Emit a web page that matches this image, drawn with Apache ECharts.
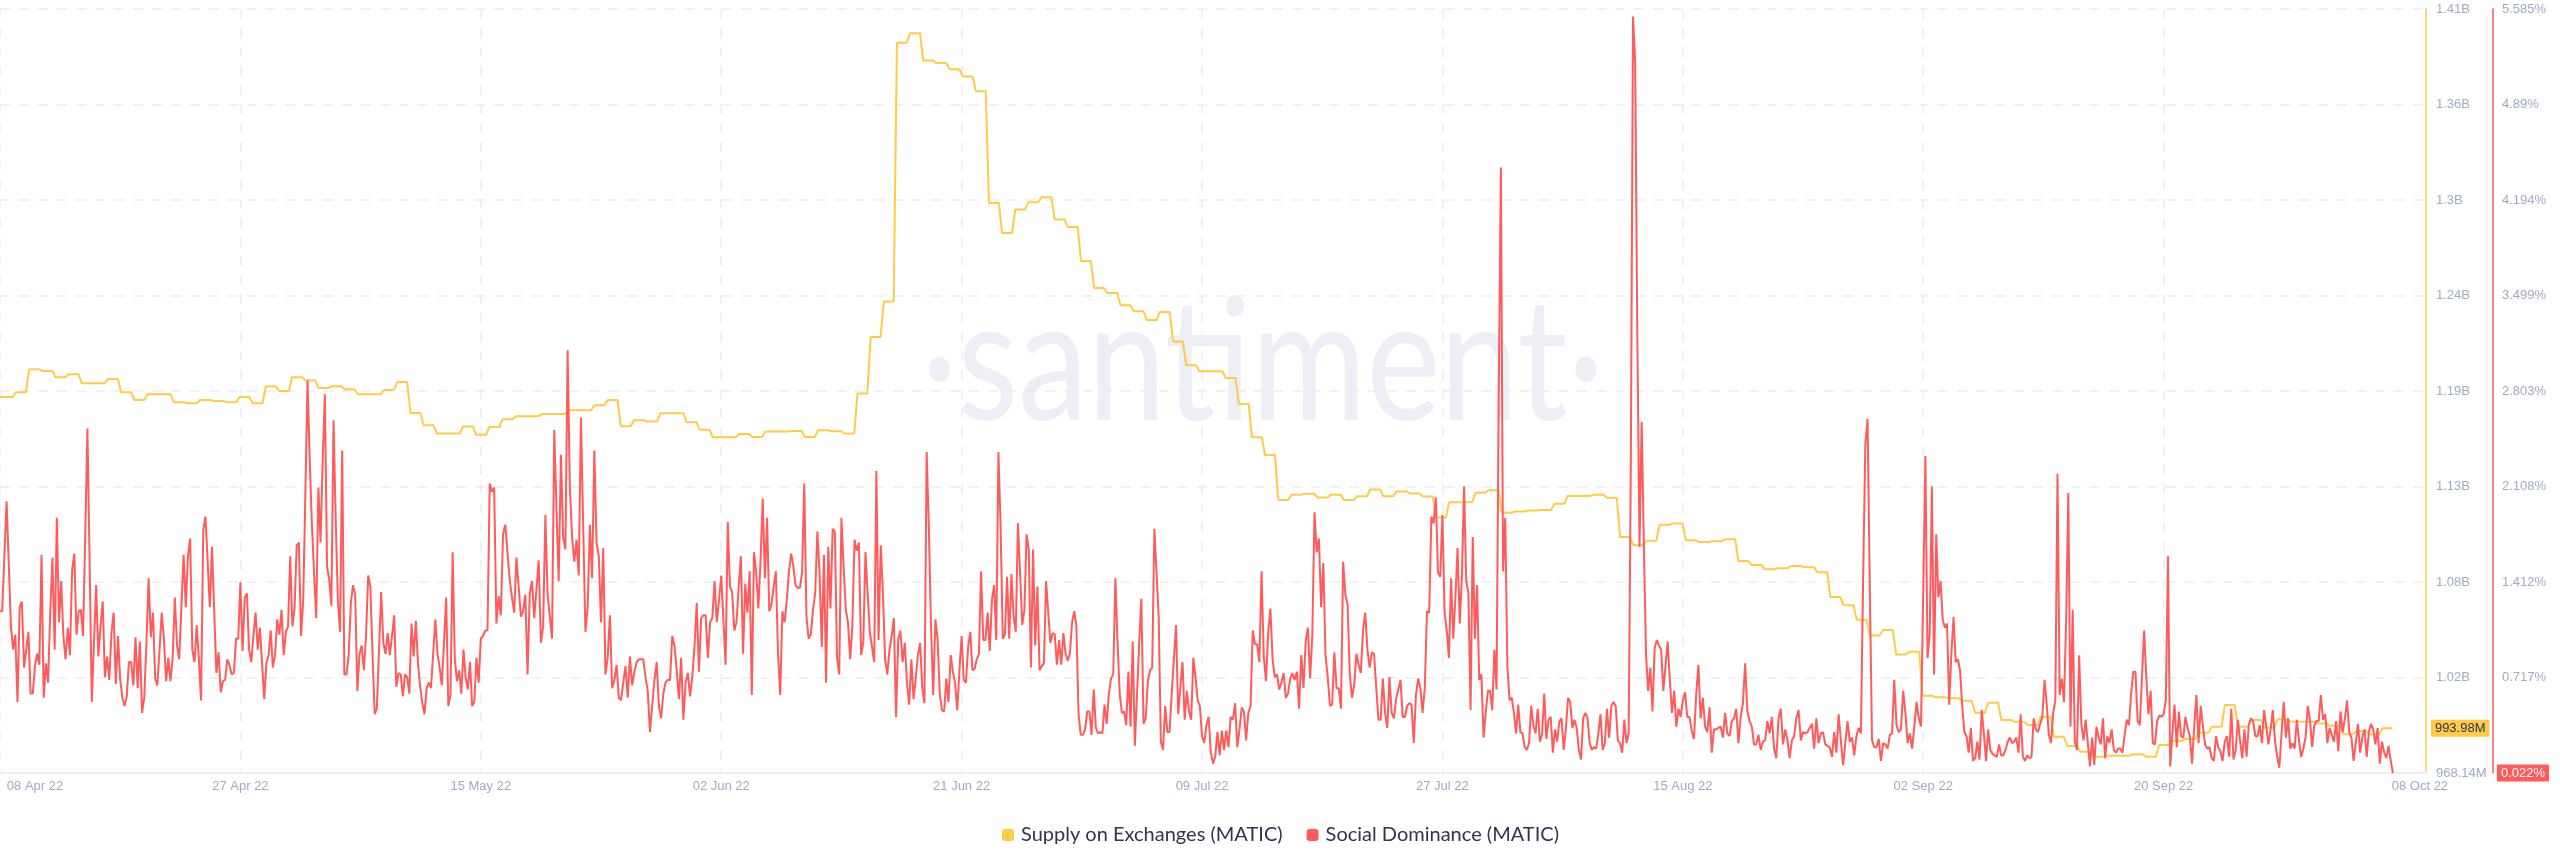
<!DOCTYPE html>
<html>
<head>
<meta charset="utf-8">
<title>MATIC supply and social dominance</title>
<script src="https://cdn.jsdelivr.net/npm/echarts@6/dist/echarts.min.js"></script>
<style>
  html, body { margin: 0; padding: 0; background: #fff; }
  #chart { width: 2560px; height: 867px; }
</style>
</head>
<body>
<div id="chart"></div>
<script>
// x axis runs in days since 08 Apr 22
const tickDays = [0, 18.38, 36.76, 55.14, 73.52, 91.9, 110.28, 128.66, 147.04, 165.42];
const tickLabels = ['08 Apr 22', '27 Apr 22', '15 May 22', '02 Jun 22', '21 Jun 22', '09 Jul 22', '27 Jul 22', '15 Aug 22', '02 Sep 22', '20 Sep 22'];
const lastDay = 182.95;
const lastDayLabel = '08 Oct 22';

const supplyTicks = [968.14, 1023.37, 1078.6, 1133.84, 1189.07, 1244.3, 1299.53, 1354.77, 1410];
const supplyTickLabels = ['968.14M', '1.02B', '1.08B', '1.13B', '1.19B', '1.24B', '1.3B', '1.36B', '1.41B'];
const dominanceTicks = [0.717, 1.412, 2.108, 2.803, 3.499, 4.194, 4.89, 5.585];
const dominanceTickLabels = ['0.717%', '1.412%', '2.108%', '2.803%', '3.499%', '4.194%', '4.89%', '5.585%'];

// Supply on Exchanges, millions, one value a day
const supplyDaily = [
  1185.6, 1188.4, 1201.6, 1200.7, 1197.0, 1198.8, 1193.6, 1193.6, 1196.0, 1188.4,
  1183.9, 1187.2, 1187.2, 1182.6, 1182.0, 1183.9, 1183.3, 1182.6, 1185.6, 1182.0,
  1191.8, 1189.1, 1197.0, 1195.3, 1190.8, 1191.8, 1190.1, 1187.2, 1187.2, 1189.7,
  1194.3, 1176.4, 1169.3, 1164.5, 1164.5, 1168.5, 1163.7, 1168.3, 1172.7, 1174.5,
  1174.5, 1175.8, 1175.8, 1178.0, 1178.0, 1180.8, 1183.9, 1168.7, 1172.2, 1171.4,
  1176.2, 1176.2, 1171.0, 1166.6, 1162.3, 1162.3, 1164.2, 1162.5, 1165.6, 1165.6,
  1166.0, 1162.5, 1166.4, 1165.8, 1164.5, 1187.6, 1220.3, 1240.9, 1390.5, 1396.0,
  1380.2, 1378.7, 1375.2, 1371.0, 1362.5, 1297.8, 1280.4, 1294.1, 1298.3, 1301.1,
  1288.2, 1283.9, 1264.2, 1248.6, 1245.8, 1238.6, 1235.2, 1230.1, 1234.8, 1217.7,
  1204.0, 1200.5, 1200.5, 1196.6, 1181.6, 1162.3, 1152.0, 1126.0, 1129.0, 1129.6,
  1127.5, 1129.0, 1126.0, 1128.2, 1132.1, 1128.2, 1131.0, 1129.8, 1128.1, 1115.9,
  1124.8, 1124.8, 1130.2, 1131.7, 1118.6, 1119.4, 1120.0, 1120.2, 1123.8, 1128.4,
  1128.4, 1129.0, 1127.3, 1104.7, 1099.9, 1102.4, 1111.7, 1112.5, 1102.8, 1101.7,
  1102.2, 1103.4, 1090.7, 1088.5, 1086.0, 1086.6, 1087.8, 1087.2, 1084.3, 1070.0,
  1065.2, 1056.7, 1047.7, 1050.8, 1036.7, 1038.2, 1012.8, 1011.9, 1011.3, 1009.9,
  1003.0, 1008.8, 998.8, 997.8, 995.9, 1000.7, 989.1, 983.7, 980.5, 977.6,
  978.1, 978.1, 979.0, 977.6, 984.3, 986.8, 987.8, 991.4, 994.9, 1007.4,
  994.9, 998.8, 994.3, 999.2, 997.8, 997.8, 996.8, 995.5, 990.6, 992.5,
  990.6, 993.98
];

// Social Dominance, percent, one list per tick interval
const dominanceApr = [
  1.20, 1.20, 1.60, 2.00, 1.55, 1.09, 0.92, 1.03, 0.54, 1.23, 1.27, 0.79, 0.92, 1.05, 0.60, 0.60, 0.80, 0.89, 0.81, 1.61,
  0.57, 0.82, 0.68, 1.20, 1.59, 0.92, 1.88, 1.12, 1.42, 1.02, 0.85, 1.08, 0.88, 1.50, 1.62, 1.03, 1.20, 1.21, 1.02, 1.75,
  2.53, 1.57, 0.54, 0.97, 1.39, 0.87, 1.09, 1.27, 0.72, 0.87, 0.70, 1.04, 1.19, 0.67, 1.02, 0.70, 0.57, 0.51, 0.58, 0.83,
  0.83, 0.66, 1.01, 0.64, 0.98, 0.46, 0.57, 0.97, 1.44, 1.01, 1.19, 0.71, 0.66, 0.92, 1.19, 1.00, 0.69, 0.86, 0.69, 0.86,
  1.30, 0.95, 0.85, 1.23, 1.61, 1.23, 1.60, 1.73, 0.92, 0.83, 1.10, 0.85, 0.55, 1.79, 1.89, 1.57, 1.23, 1.67, 1.21, 0.75,
  0.90, 0.61, 0.69, 0.70, 0.85, 0.81, 0.74, 0.75, 1.00, 1.00
];
const dominanceMay1 = [
  1.41, 0.91, 1.30, 1.33, 0.92, 0.83, 1.02, 1.19, 0.92, 1.08, 0.82, 0.56, 0.82, 0.88, 1.06, 0.79, 0.88, 1.14, 1.03, 1.21,
  0.88, 1.05, 1.09, 1.60, 1.09, 1.22, 1.68, 1.70, 1.02, 1.28, 2.06, 2.88, 2.30, 1.84, 1.48, 1.15, 2.10, 1.70, 2.30, 2.78,
  1.53, 1.43, 1.24, 2.59, 1.87, 1.28, 1.05, 2.37, 0.74, 0.74, 0.88, 1.26, 1.39, 1.32, 0.62, 0.89, 0.95, 0.77, 1.02, 1.46,
  1.38, 0.89, 0.45, 0.49, 0.92, 1.34, 0.97, 0.89, 1.04, 0.88, 1.02, 1.17, 0.65, 0.75, 0.74, 0.58, 0.74, 0.72, 0.60, 1.11,
  0.87, 1.13, 0.82, 0.65, 0.53, 0.45, 0.64, 0.68, 0.64, 0.89, 1.14, 0.89, 0.79, 0.66, 0.97, 1.30, 0.51, 0.59, 1.63, 0.85,
  0.69, 0.77, 0.60, 0.92, 0.72, 0.63, 0.83, 0.51, 0.54, 0.86, 0.68
];
const dominanceMay2 = [
  1.00, 1.02, 1.06, 1.06, 2.13, 2.07, 2.10, 1.11, 1.31, 1.17, 1.76, 1.83, 1.62, 1.43, 1.30, 1.19, 1.59, 1.38, 1.16, 1.20,
  1.32, 0.74, 1.33, 1.42, 1.15, 1.36, 1.57, 0.97, 1.09, 1.90, 1.32, 1.16, 1.00, 2.52, 1.94, 1.42, 2.34, 1.74, 1.65, 3.10,
  2.11, 1.74, 1.56, 1.72, 1.46, 2.61, 1.82, 1.05, 1.23, 1.83, 1.44, 2.37, 1.70, 1.60, 1.12, 1.66, 0.74, 0.86, 1.17, 0.64,
  0.70, 0.81, 0.57, 0.55, 0.68, 0.80, 0.57, 0.87, 0.66, 0.76, 0.83, 0.85, 0.85, 0.85, 0.72, 0.62, 0.32, 0.51, 0.70, 0.83,
  0.51, 0.42, 0.60, 0.68, 0.70, 0.70, 1.02, 0.95, 0.77, 0.56, 0.86, 0.41, 0.68, 0.75, 0.58, 0.72, 0.94, 1.26, 0.76, 1.15,
  1.17, 1.17, 0.86, 1.12, 1.15, 1.42, 1.12, 1.28
];
const dominanceJun1 = [
  1.46, 1.14, 0.81, 1.85, 1.38, 1.34, 1.06, 1.12, 1.38, 1.60, 0.89, 1.40, 1.19, 1.49, 0.59, 1.63, 1.48, 1.22, 1.57, 2.02,
  1.44, 1.88, 1.20, 1.25, 1.38, 1.49, 0.89, 0.59, 1.20, 1.12, 1.28, 1.49, 1.62, 1.53, 1.39, 1.37, 1.37, 1.48, 2.13, 1.16,
  1.00, 1.03, 1.21, 1.33, 1.78, 1.48, 0.94, 1.61, 0.68, 1.67, 1.22, 1.80, 1.78, 0.86, 0.74, 1.88, 1.53, 1.21, 1.12, 0.85,
  1.09, 1.72, 1.64, 1.70, 0.88, 0.97, 1.63, 1.33, 1.05, 0.94, 0.83, 2.22, 0.99, 1.68, 1.33, 0.85, 0.74, 0.92, 1.02, 1.15,
  0.43, 1.00, 1.06, 0.83, 0.97, 0.68, 0.52, 0.85, 0.56, 0.71, 0.88, 0.97, 0.64, 0.53, 2.36, 1.82, 1.09, 0.59, 1.14, 1.00,
  0.60, 0.48, 0.47, 0.71, 0.54, 0.88, 0.76, 0.68, 0.48, 0.77
];
const dominanceJun2 = [
  1.02, 0.70, 0.68, 0.94, 1.05, 0.77, 0.78, 0.85, 0.89, 1.49, 0.99, 0.99, 1.19, 0.91, 1.28, 1.39, 0.99, 2.36, 1.82, 1.00,
  1.03, 1.45, 1.00, 1.47, 1.16, 1.05, 1.84, 1.48, 1.10, 1.21, 1.76, 1.65, 0.79, 1.65, 0.95, 1.38, 0.77, 0.80, 0.82, 1.42,
  1.19, 0.97, 1.04, 1.03, 0.81, 0.99, 0.81, 1.04, 0.89, 0.84, 0.89, 1.12, 1.20, 1.09, 0.45, 0.30, 0.30, 0.34, 0.47, 0.47,
  0.30, 0.63, 0.35, 0.31, 0.32, 0.31, 0.52, 0.38, 0.60, 0.71, 0.74, 1.44, 0.97, 0.60, 0.46, 0.47, 0.37, 0.76, 0.36, 0.98,
  0.22, 0.60, 0.97, 1.29, 0.38, 0.42, 0.69, 0.77, 0.79, 1.80, 1.48, 1.16, 0.25, 0.19, 0.51, 0.32, 0.32, 0.60, 0.85, 1.10,
  0.45, 0.65, 0.83, 0.41, 0.62, 0.47, 0.41, 0.86, 0.72, 0.55, 0.51
];
const dominanceJul1 = [
  0.29, 0.24, 0.37, 0.43, 0.17, 0.09, 0.14, 0.32, 0.15, 0.33, 0.19, 0.33, 0.21, 0.43, 0.41, 0.53, 0.21, 0.34, 0.50, 0.47,
  0.26, 0.46, 0.51, 1.06, 0.96, 0.96, 0.83, 1.49, 0.87, 0.69, 1.04, 1.22, 0.85, 0.72, 0.74, 0.63, 0.68, 0.75, 0.57, 0.60,
  0.71, 0.75, 0.70, 0.76, 0.49, 0.88, 0.64, 0.98, 1.08, 0.71, 1.02, 1.92, 1.63, 1.73, 1.23, 1.55, 0.88, 0.72, 0.51, 0.52,
  0.90, 0.64, 0.64, 0.49, 1.56, 1.32, 1.25, 0.74, 0.57, 0.66, 0.89, 0.81, 0.75, 1.06, 1.19, 0.92, 0.79, 0.90, 0.89, 0.64,
  0.41, 0.41, 0.71, 0.46, 0.35, 0.72, 0.46, 0.42, 0.56, 0.63, 0.70, 0.43, 0.43, 0.51, 0.53, 0.52, 0.24, 0.59, 0.71, 0.64,
  0.46, 0.64, 1.20, 1.19, 1.89, 1.84, 2.03, 1.48, 1.45
];
const dominanceJul2 = [
  1.90, 1.19, 1.06, 0.86, 1.44, 1.00, 1.30, 1.66, 1.11, 1.45, 2.11, 1.42, 1.33, 0.48, 1.74, 1.00, 1.39, 0.70, 0.74, 0.28,
  0.46, 0.62, 0.62, 0.48, 0.92, 0.63, 2.80, 4.43, 1.49, 1.88, 0.80, 0.55, 0.57, 0.46, 0.31, 0.52, 0.32, 0.31, 0.21, 0.19,
  0.24, 0.51, 0.37, 0.31, 0.49, 0.25, 0.30, 0.60, 0.27, 0.41, 0.43, 0.17, 0.34, 0.25, 0.40, 0.42, 0.19, 0.34, 0.57, 0.54,
  0.35, 0.41, 0.35, 0.19, 0.12, 0.42, 0.46, 0.42, 0.24, 0.19, 0.21, 0.20, 0.31, 0.45, 0.19, 0.24, 0.49, 0.28, 0.51, 0.54,
  0.51, 0.26, 0.24, 0.17, 0.41, 0.24, 0.31, 2.30, 5.53, 5.20, 3.20, 1.67, 2.58, 1.70, 0.89, 0.62, 0.79, 0.47, 0.93, 0.99,
  0.95, 0.92, 0.62, 0.80, 0.98, 0.70, 0.46, 0.62, 0.36, 0.49, 0.43
];
const dominanceAug = [
  0.55, 0.61, 0.43, 0.43, 0.33, 0.27, 0.59, 0.81, 0.42, 0.57, 0.36, 0.32, 0.50, 0.17, 0.34, 0.34, 0.35, 0.36, 0.28, 0.46,
  0.31, 0.29, 0.40, 0.42, 0.49, 0.24, 0.43, 0.53, 0.82, 0.47, 0.40, 0.36, 0.23, 0.23, 0.30, 0.19, 0.25, 0.26, 0.40, 0.31,
  0.43, 0.20, 0.13, 0.42, 0.49, 0.23, 0.34, 0.26, 0.13, 0.26, 0.29, 0.42, 0.48, 0.26, 0.32, 0.31, 0.32, 0.35, 0.38, 0.20,
  0.42, 0.24, 0.31, 0.32, 0.23, 0.22, 0.21, 0.14, 0.32, 0.17, 0.45, 0.26, 0.08, 0.24, 0.40, 0.25, 0.28, 0.15, 0.29, 0.35,
  0.31, 1.43, 2.42, 2.60, 1.38, 0.26, 0.21, 0.21, 0.27, 0.11, 0.24, 0.23, 0.20, 0.30, 0.31, 0.70, 0.37, 0.32, 0.34, 0.62,
  0.46, 0.24, 0.31, 0.20, 0.36, 0.54, 0.42, 0.36
];
const dominanceSep1 = [
  1.33, 2.33, 0.86, 1.04, 2.11, 0.74, 1.76, 1.30, 1.42, 1.14, 1.08, 1.11, 0.52, 0.89, 1.16, 0.83, 0.85, 0.77, 0.51, 0.32,
  0.29, 0.17, 0.35, 0.11, 0.13, 0.25, 0.12, 0.48, 0.31, 0.11, 0.34, 0.19, 0.16, 0.15, 0.14, 0.23, 0.15, 0.15, 0.19, 0.25,
  0.28, 0.24, 0.25, 0.28, 0.17, 0.45, 0.14, 0.11, 0.15, 0.13, 0.14, 0.42, 0.34, 0.32, 0.38, 0.43, 0.70, 0.53, 0.30, 0.24,
  0.46, 0.55, 2.20, 0.59, 0.71, 0.54, 1.14, 2.06, 0.36, 1.21, 0.25, 0.19, 0.88, 0.38, 0.26, 0.41, 0.24, 0.07, 0.28, 0.08,
  0.36, 0.28, 0.23, 0.42, 0.13, 0.29, 0.24, 0.34, 0.19, 0.17, 0.20, 0.20, 0.17, 0.30, 0.41, 0.37, 0.60, 0.76, 0.76, 0.40,
  0.37, 0.72, 1.06, 0.72, 0.45, 0.62, 0.24, 0.23, 0.40, 0.44, 0.43
];
const dominanceSep2 = [
  0.45, 0.55, 1.60, 0.07, 0.31, 0.52, 0.21, 0.47, 0.29, 0.28, 0.43, 0.35, 0.29, 0.09, 0.36, 0.59, 0.24, 0.51, 0.36, 0.23,
  0.20, 0.21, 0.13, 0.11, 0.29, 0.21, 0.18, 0.11, 0.25, 0.29, 0.14, 0.49, 0.12, 0.19, 0.41, 0.26, 0.13, 0.34, 0.14, 0.37,
  0.42, 0.40, 0.29, 0.29, 0.37, 0.24, 0.48, 0.36, 0.23, 0.34, 0.48, 0.26, 0.14, 0.06, 0.31, 0.54, 0.28, 0.42, 0.20, 0.24,
  0.20, 0.41, 0.26, 0.14, 0.20, 0.28, 0.51, 0.41, 0.21, 0.37, 0.40, 0.40, 0.59, 0.41, 0.45, 0.24, 0.35, 0.30, 0.25, 0.40,
  0.18, 0.47, 0.32, 0.42, 0.55, 0.32, 0.28, 0.11, 0.24, 0.38, 0.17, 0.28, 0.34, 0.14, 0.32, 0.38, 0.34, 0.23, 0.35, 0.09,
  0.25, 0.17, 0.13, 0.22, 0.11, 0.022
];
const dominanceParts = [dominanceApr, dominanceMay1, dominanceMay2, dominanceJun1, dominanceJun2, dominanceJul1, dominanceJul2, dominanceAug, dominanceSep1, dominanceSep2];

const supplyName = 'Supply on Exchanges (MATIC)';
const dominanceName = 'Social Dominance (MATIC)';
const yellow = '#ffcb47';
const red = '#ff5b5b';
const axisText = '#9faac4';
const gridColor = '#ecedf4';

// daily supply holds flat, then moves in the last few hours of the day
function supplyPoints() {
  const step = lastDay / supplyDaily.length;
  const points = [];
  supplyDaily.forEach(function (v, i) {
    points.push([i === 0 ? 0 : i * step + 0.22, v]);
    points.push([Math.min((i + 1) * step - 0.03, lastDay), v]);
  });
  return points;
}

function dominancePoints() {
  const points = [];
  dominanceParts.forEach(function (part, k) {
    const from = tickDays[k];
    const to = k + 1 < tickDays.length ? tickDays[k + 1] : lastDay;
    const last = k === dominanceParts.length - 1;
    part.forEach(function (v, j) {
      points.push([from + (to - from) * j / (last ? part.length - 1 : part.length), v]);
    });
  });
  return points;
}

function tickLabel(ticks, labels) {
  return function (value) {
    let best = 0;
    ticks.forEach(function (t, i) {
      if (Math.abs(t - value) < Math.abs(ticks[best] - value)) best = i;
    });
    return labels[best];
  };
}

function endTag(day, value, text, distance, color, textColor) {
  return {
    symbolSize: 0,
    data: [{ coord: [day, value] }],
    label: {
      show: true,
      position: 'right',
      distance: distance,
      formatter: text,
      backgroundColor: color,
      color: textColor,
      fontFamily: 'Liberation Sans',
      fontSize: 13,
      padding: [2, 4, 2, 4],
      borderRadius: 1
    }
  };
}

const chart = echarts.init(document.getElementById('chart'));

chart.setOption({
  animation: false,
  graphic: [{
    type: 'text',
    x: 921,
    y: 280,
    scaleX: 0.824,
    z: -1,
    silent: true,
    style: {
      text: '\u00b7santiment\u00b7',
      fontFamily: 'Lato',
      fontWeight: 400,
      fontSize: 170,
      fill: '#eeeff6'
    }
  }],
  legend: {
    left: 1002,
    top: 825,
    padding: 0,
    itemWidth: 12,
    itemHeight: 12,
    itemGap: 24,
    icon: 'roundRect',
    selectedMode: false,
    textStyle: { fontFamily: 'Lato', fontSize: 20, color: '#2f354d', padding: [0, 0, 0, 2] },
    data: [supplyName, dominanceName]
  },
  grid: { left: 0, top: 9, width: 2426, height: 764 },
  xAxis: {
    type: 'value',
    min: 0,
    max: 185.48,
    axisLine: { show: true, lineStyle: { color: gridColor, width: 2 } },
    axisTick: { show: false, customValues: tickDays },
    axisLabel: {
      customValues: tickDays.concat([lastDay]),
      margin: 7,
      color: axisText,
      fontFamily: 'Liberation Sans',
      fontSize: 13,
      hideOverlap: false,
      formatter: function (value) {
        if (value === 0) return '{first|' + tickLabels[0] + '}';
        if (value === lastDay) return '{last|' + lastDayLabel + '}';
        return tickLabels[tickDays.indexOf(value)];
      },
      rich: {
        first: { padding: [0, 0, 0, 70], color: axisText, fontFamily: 'Liberation Sans', fontSize: 13 },
        last: { padding: [0, 0, 0, 54], color: axisText, fontFamily: 'Liberation Sans', fontSize: 13 }
      }
    },
    splitLine: { show: true, lineStyle: { color: gridColor, width: 1.5, type: [10, 9] } }
  },
  yAxis: [{
    type: 'value',
    position: 'right',
    min: supplyTicks[0],
    max: supplyTicks[supplyTicks.length - 1],
    axisLine: { show: true, onZero: false, lineStyle: { color: yellow, width: 1.5 } },
    axisTick: { show: false, customValues: supplyTicks },
    axisLabel: {
      customValues: supplyTicks,
      margin: 10,
      color: axisText,
      fontFamily: 'Liberation Sans',
      fontSize: 13,
      formatter: tickLabel(supplyTicks, supplyTickLabels)
    },
    splitLine: { show: true, lineStyle: { color: gridColor, width: 1.5, type: [10, 9] } }
  }, {
    type: 'value',
    position: 'right',
    offset: 67,
    min: 0.022,
    max: 5.585,
    axisLine: { show: true, onZero: false, lineStyle: { color: red, width: 1.5 } },
    axisTick: { show: false, customValues: dominanceTicks },
    axisLabel: {
      customValues: dominanceTicks,
      margin: 9,
      color: axisText,
      fontFamily: 'Liberation Sans',
      fontSize: 13,
      formatter: tickLabel(dominanceTicks, dominanceTickLabels)
    },
    splitLine: { show: false }
  }],
  series: [{
    name: supplyName,
    type: 'line',
    yAxisIndex: 0,
    z: 2,
    showSymbol: false,
    clip: false,
    itemStyle: { color: yellow },
    lineStyle: { color: yellow, width: 2 },
    data: supplyPoints(),
    markPoint: endTag(lastDay, supplyDaily[supplyDaily.length - 1], '993.98M', 38, yellow, '#2f354d')
  }, {
    name: dominanceName,
    type: 'line',
    yAxisIndex: 1,
    z: 3,
    showSymbol: false,
    clip: false,
    itemStyle: { color: red },
    lineStyle: { color: red, width: 2 },
    data: dominancePoints(),
    markPoint: endTag(lastDay, dominanceSep2[dominanceSep2.length - 1], '0.022%', 104, red, '#fff')
  }]
});
</script>
</body>
</html>
